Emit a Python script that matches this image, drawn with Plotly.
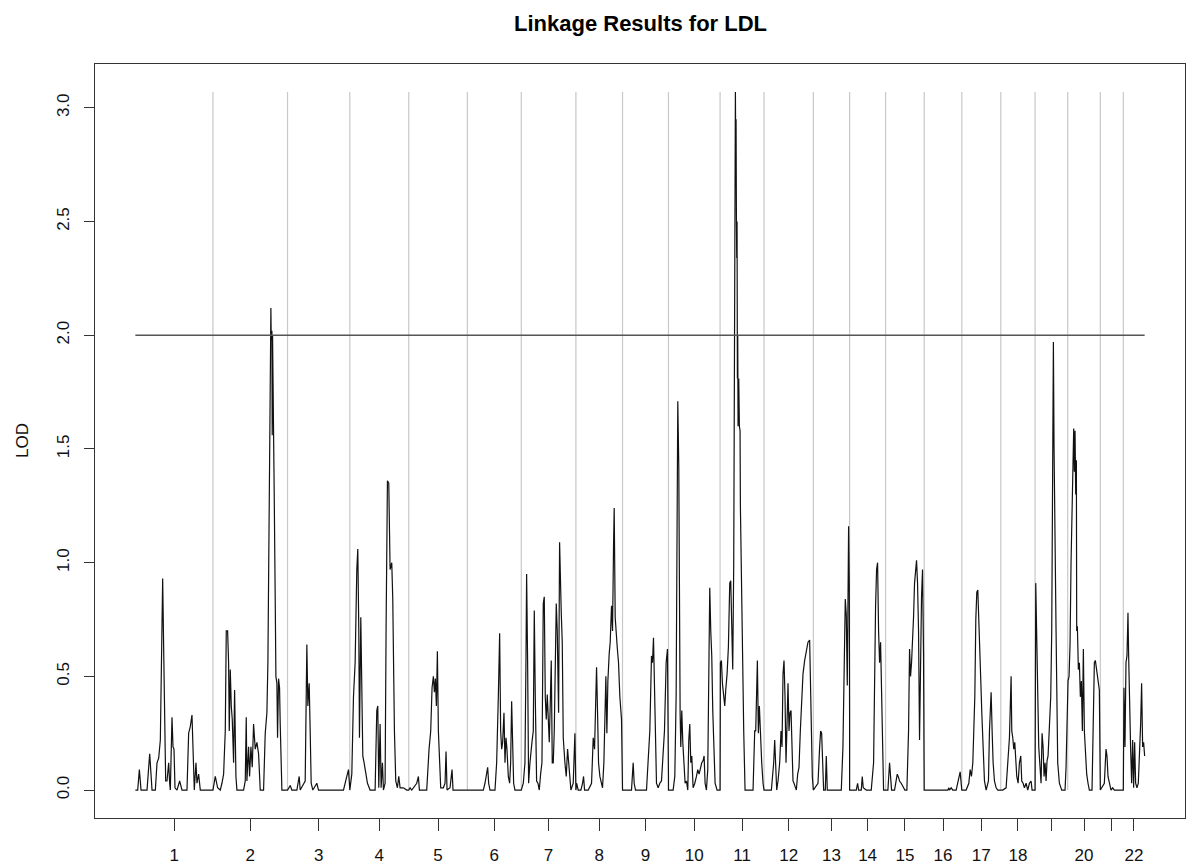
import plotly.graph_objects as go

# ---------------- data ----------------
chrom_names = [str(i) for i in range(1, 23)]
# genetic length of each chromosome (cM)
chrom_lengths = [233, 224, 187, 177, 176, 162, 164, 140, 138, 155, 132,
                 148, 109, 108, 116, 113, 117, 103, 98, 98, 69, 64]
# labels printed under the axis (R drops overlapping ones)
tick_labels = ["1", "2", "3", "4", "5", "6", "7", "8", "9", "10", "11", "12",
               "13", "14", "15", "16", "17", "18", "", "20", "", "22"]
y_ticks = [0.0, 0.5, 1.0, 1.5, 2.0, 2.5, 3.0]
threshold = 2.0

# (position within chromosome in cM, LOD)
chr01 = [(0,0),(7,0),(12,0.09),(17,0),(35,0),(43,0.16),(50,0),(60,0),(65,0.12),(70,0.14),(75,0.22),
         (80,0.63),(82,0.93),(85,0.62),(88,0.26),(91,0.04),(95,0.04),(100,0.12),(103,0.03),(105,0),
         (110,0.32),(113,0.19),(116,0.18),(119,0.01),(125,0),(133,0.04),(140,0),(155,0),(160,0.25),
         (165,0.28),(170,0.33),(173,0.18),(177,0),(182,0.12),(185,0.03),(190,0.07),(195,0),(233,0)]
chr02 = [(0,0),(2,0.02),(7,0.06),(14,0.01),(22,0),(27,0.03),(32,0.07),(37,0.26),(40,0.70),(44,0.70),
         (47,0.56),(49,0.26),(52,0.53),(55,0.37),(58,0.31),(62,0.12),(65,0.44),(69,0.06),(72,0),(92,0),
         (97,0.04),(100,0.32),(102,0.04),(107,0.19),(110,0.06),(114,0.19),(118,0.10),(122,0.29),
         (127,0.18),(132,0.21),(137,0.16),(142,0),(152,0),(157,0.25),(162,0.34),(165,0.56),(168,1.14),
         (171,1.60),(174,2.12),(175,1.98),(176,1.60),(177,2.02),(178,1.56),(179,2.00),(180,1.75),
         (181,1.90),(182,1.55),(184,1.30),(187,0.84),(189,0.50),(192,0.47),(194,0.23),(197,0.49),
         (200,0.45),(202,0.29),(207,0),(224,0)]
chr03 = [(0,0),(8,0.02),(13,0),(28,0),(35,0.06),(38,0),(53,0.04),(56,0.30),(58,0.64),(61,0.37),
         (65,0.47),(68,0.26),(71,0.03),(76,0),(88,0.03),(93,0),(168,0),(178,0.06),(183,0.09),(187,0)]
chr04 = [(0,0),(6,0.07),(11,0.41),(16,0.56),(21,0.97),(24,1.06),(27,0.70),(29,0.23),(33,0.76),
         (36,0.41),(39,0.15),(43,0.12),(47,0.09),(53,0.03),(61,0),(76,0),(81,0.35),(84,0.37),(87,0.01),
         (91,0.29),(94,0.01),(98,0.12),(101,0),(106,0.03),(109,0.72),(113,1.36),(117,1.35),(121,0.97),
         (126,1.00),(129,0.84),(134,0.26),(138,0.04),(143,0.01),(147,0.06),(151,0.01),(161,0.01),
         (171,0),(177,0)]
chr05 = [(0,0),(4,0.01),(9,0),(24,0.03),(29,0.06),(32,0),(54,0),(61,0.18),(66,0.26),(70,0.45),
         (74,0.50),(77,0.43),(80,0.49),(83,0.37),(86,0.61),(89,0.26),(92,0.12),(96,0.01),(104,0.01),
         (109,0.03),(112,0.17),(115,0),(124,0.01),(130,0.09),(133,0),(144,0),(176,0)]
chr06 = [(0,0),(48,0),(53,0.03),(58,0.07),(61,0.10),(64,0.03),(68,0),(83,0),(88,0.12),(93,0.41),
         (97,0.69),(100,0.26),(103,0.18),(106,0.21),(110,0.34),(113,0.12),(116,0.23),(119,0.18),
         (123,0.06),(127,0.03),(130,0.12),(133,0.39),(136,0.12),(139,0.03),(143,0),(162,0)]
chr07 = [(0,0),(6,0.03),(11,0.12),(14,0.56),(16,0.95),(19,0.56),(22,0.03),(26,0.12),(29,0.19),
         (32,0.21),(36,0.26),(39,0.79),(42,0.41),(46,0.04),(50,0.03),(54,0),(58,0.07),(62,0.12),
         (66,0.82),(69,0.85),(72,0.41),(75,0.31),(78,0.42),(81,0.26),(84,0.21),(87,0.38),(90,0.57),
         (93,0.12),(96,0.12),(99,0.26),(102,0.67),(105,0.82),(108,0.70),(112,0.34),(115,1.09),
         (117,0.89),(120,0.78),(123,0.65),(126,0.23),(131,0.12),(135,0.06),(139,0.18),(143,0.12),
         (146,0.06),(149,0),(156,0.03),(161,0.25),(164,0)]
chr08 = [(0,0),(2,0.03),(7,0),(15,0),(20,0.03),(23,0.06),(26,0),(37,0),(47,0.03),(52,0.23),(56,0.18),
         (59,0.34),(62,0.54),(65,0.34),(68,0.12),(72,0.06),(76,0.03),(80,0.01),(84,0.12),(87,0.41),
         (90,0.50),(93,0.25),(96,0.48),(100,0.60),(103,0.65),(107,0.81),(110,0.70),(113,1.07),
         (115,1.24),(118,0.76),(121,0.67),(124,0.63),(128,0.56),(132,0.41),(137,0.31),(140,0)]
chr09 = [(0,0),(27,0),(32,0.12),(35,0.03),(39,0),(72,0),(77,0.12),(82,0.26),(87,0.59),(90,0.56),
         (93,0.67),(96,0.41),(99,0.19),(102,0.03),(107,0.01),(112,0.03),(117,0.04),(122,0.15),
         (126,0.26),(131,0.56),(135,0.62),(138,0.05)]
chr10 = [(0,0),(14,0),(19,0.06),(23,0.41),(26,1.14),(28,1.71),(31,1.42),(33,0.56),(35,0.34),(37,0.19),
         (40,0.35),(43,0.21),(46,0.12),(50,0.03),(54,0.04),(58,0),(61,0.22),(64,0.29),(67,0.12),
         (70,0.15),(74,0.01),(79,0.03),(84,0.06),(88,0.09),(92,0.07),(96,0.10),(100,0.12),(104,0.13),
         (107,0.15),(110,0.03),(114,0),(118,0.09),(121,0.41),(124,0.89),(127,0.70),(130,0.59),
         (133,0.35),(136,0.19),(140,0.03),(146,0),(155,0)]
chr11 = [(0,0),(1,0.56),(4,0.57),(7,0.47),(11,0.41),(14,0.37),(17,0.44),(21,0.51),(25,0.63),(29,0.91),
         (32,0.92),(35,0.67),(38,0.53),(41,1.00),(42,1.50),(44,2.30),(46,3.07),(47,2.81),(48,2.95),
         (49,2.52),(50,2.34),(51,2.50),(52,1.81),(53,2.00),(54,1.60),(56,1.81),(58,1.60),(60,1.58),
         (61,1.25),(64,0.95),(67,0.53),(71,0.26),(75,0),(99,0),(104,0.26),(107,0.26),(112,0.57),
         (115,0.25),(118,0.37),(121,0.25),(125,0.12),(129,0.03),(132,0)]
chr12 = [(0,0),(22,0),(29,0.12),(32,0.22),(35,0.12),(38,0),(42,0.04),(47,0.12),(51,0.26),(54,0.19),
         (57,0.51),(60,0.57),(63,0.41),(66,0.12),(69,0.29),(72,0.47),(75,0.26),(78,0.34),(81,0.35),
         (84,0.12),(87,0.04),(90,0.03),(94,0.01),(97,0),(101,0.07),(105,0.10),(109,0.26),(113,0.41),
         (117,0.51),(122,0.57),(127,0.62),(132,0.65),(137,0.66),(140,0.44),(142,0.21),(145,0.06),(148,0)]
chr13 = [(0,0),(14,0.03),(19,0.19),(22,0.26),(25,0.25),(28,0.12),(31,0),(36,0),(39,0.15),(42,0),
         (84,0),(89,0.19),(93,0.56),(96,0.84),(99,0.77),(102,0.46),(106,1.16),(108,0.90),(109,0.30)]
chr14 = [(0,0),(20,0),(24,0.03),(27,0),(35,0),(38,0.06),(41,0.01),(50,0),(65,0),(72,0.12),(75,0.56),
         (78,0.81),(81,0.97),(84,1.00),(87,0.70),(90,0.56),(93,0.65),(96,0.37),(99,0.12),(102,0),(108,0)]
chr15 = [(0,0),(7,0),(12,0.12),(15,0.03),(18,0),(27,0),(32,0.06),(35,0.07),(38,0.06),(42,0.04),
         (47,0.03),(54,0.01),(58,0),(64,0),(69,0.26),(72,0.62),(75,0.50),(78,0.56),(81,0.65),(84,0.76),
         (87,0.91),(90,0.98),(93,1.01),(96,0.91),(99,0.70),(102,0.22),(105,0.56),(108,0.85),(111,0.97),
         (114,0.60),(116,0)]
chr16 = [(0,0),(71,0),(74,0.01),(76,0),(81,0.01),(86,0),(96,0),(103,0.04),(108,0.08),(111,0.03),(113,0)]
chr17 = [(0,0),(13,0),(21,0.03),(25,0.09),(29,0.06),(33,0.12),(36,0.26),(39,0.41),(42,0.75),(45,0.87),
         (48,0.88),(51,0.76),(54,0.67),(57,0.48),(60,0.34),(63,0.19),(68,0.04),(73,0),(80,0.04),
         (83,0.26),(86,0.41),(88,0.43),(91,0.26),(94,0.12),(98,0.04),(103,0.01),(108,0),(117,0)]
chr18 = [(0,0),(6,0),(16,0.01),(21,0.12),(26,0.23),(31,0.50),(33,0.26),(36,0.23),(39,0.18),(42,0.21),
         (45,0.12),(48,0.06),(52,0.03),(56,0.12),(60,0.15),(63,0.04),(67,0.03),(71,0.01),(76,0.03),
         (81,0),(86,0.03),(91,0.04),(94,0),(103,0)]
chr19 = [(0,0),(2,0.91),(5,0.56),(8,0.43),(11,0.19),(15,0.09),(18,0.03),(21,0.25),(24,0.19),(27,0.06),
         (30,0.12),(33,0.04),(36,0.13),(39,0.15),(43,0.26),(47,0.41),(50,0.70),(53,1.29),(55,1.97),
         (57,1.50),(59,1.14),(63,0.70),(68,0.12),(73,0.03),(80,0),(90,0),(93,0.10),(96,0.30),(98,0.41)]
chr20 = [(0,0.41),(1,0.48),(4,0.50),(7,0.64),(10,1.00),(13,1.29),(16,1.57),(18,1.59),(20,1.40),
         (22,1.58),(24,1.30),(26,1.45),(27,0.70),(29,0.72),(32,0.53),(35,0.56),(38,0.41),(41,0.48),
         (44,0.26),(47,0.62),(50,0.26),(53,0.19),(57,0.07),(61,0.03),(65,0),(73,0),(77,0.30),(80,0.56),
         (83,0.57),(86,0.54),(89,0.50),(92,0.47),(95,0.44),(98,0)]
chr21 = [(0,0),(12,0.03),(17,0.18),(20,0.15),(23,0.06),(27,0.03),(32,0),(37,0.01),(42,0),(69,0)]
chr22 = [(0,0),(2,0.45),(5,0.19),(8,0.56),(11,0.59),(14,0.78),(16,0.59),(19,0.26),(22,0.18),(25,0.03),
         (28,0.22),(31,0.01),(34,0.21),(37,0.03),(41,0.01),(45,0.03),(48,0.12),(52,0.29),(55,0.47),
         (58,0.19),(61,0.21),(64,0.15)]

scans = [chr01, chr02, chr03, chr04, chr05, chr06, chr07, chr08, chr09, chr10, chr11,
         chr12, chr13, chr14, chr15, chr16, chr17, chr18, chr19, chr20, chr21, chr22]

# ---------------- build genome-wide coordinates ----------------
offsets = []
acc = 0
for L in chrom_lengths:
    offsets.append(acc)
    acc += L

gx, gy = [], []
for off, scan in zip(offsets, scans):
    for p, lod in scan:
        gx.append(off + p)
        gy.append(lod)

mids = [off + L / 2 for off, L in zip(offsets, chrom_lengths)]
boundaries = offsets[1:]
ymax = max(gy)
xmin, xmax = min(gx), max(gx)

FONT = "Liberation Sans, Arial, Helvetica, sans-serif"
W, H = 1186, 867
ML, MR, MT, MB = 95, 1, 64, 49
PW, PH = W - ML - MR, H - MT - MB

fig = go.Figure()
fig.add_trace(go.Scatter(x=gx, y=gy, mode="lines",
                         line=dict(color="#111111", width=1.2),
                         hoverinfo="skip", showlegend=False))

shapes = []
for b in boundaries:
    shapes.append(dict(type="line", xref="x", yref="y", x0=b, x1=b, y0=0, y1=ymax,
                       line=dict(color="#c8c8c8", width=1.2), layer="below"))
shapes.append(dict(type="line", xref="x", yref="y", x0=xmin, x1=xmax, y0=threshold, y1=threshold,
                   line=dict(color="#555555", width=1.4), layer="above"))

pad_x = 0.04 * (xmax - xmin)
pad_y = 0.04 * ymax

fig.update_layout(
    width=W, height=H,
    margin=dict(l=ML, r=MR, t=MT, b=MB, autoexpand=False),
    plot_bgcolor="white", paper_bgcolor="white",
    font=dict(family=FONT, color="#111111", size=17),
    shapes=shapes,
    showlegend=False,
    xaxis=dict(range=[xmin - pad_x, xmax + pad_x], tickmode="array",
               tickvals=mids, ticktext=tick_labels, ticks="outside", ticklen=12,
               tickwidth=1.2, tickcolor="#333333", showgrid=False, zeroline=False,
               showline=True, linecolor="#333333", linewidth=1.2, mirror=True,
               tickfont=dict(size=17, family=FONT, color="#111111"),
               ticklabelstandoff=9, automargin=False),
    yaxis=dict(range=[-pad_y, ymax + pad_y], tickmode="array",
               tickvals=y_ticks, ticktext=[f"{v:.1f}" for v in y_ticks],
               tickangle=-90, ticks="outside", ticklen=10, tickwidth=1.2,
               tickcolor="#333333", showgrid=False, zeroline=False,
               showline=True, linecolor="#333333", linewidth=1.2, mirror=True,
               tickfont=dict(size=17, family=FONT, color="#111111"),
               ticklabelstandoff=8, automargin=False),
    annotations=[
        dict(text="<b>Linkage Results for LDL</b>", xref="paper", yref="paper",
             x=0.5, y=1 + (MT - 24) / PH, xanchor="center", yanchor="middle",
             showarrow=False, font=dict(size=22, family=FONT, color="#000000")),
        dict(text="LOD", xref="paper", yref="paper",
             x=(22 - ML) / PW, y=0.5, xanchor="center", yanchor="middle",
             textangle=-90, showarrow=False,
             font=dict(size=17, family=FONT, color="#111111")),
    ],
)

# remove the browser's default page margin so the figure fills the window exactly
fig.write_html(
    "out.html",
    config={"displayModeBar": False},
    post_script="document.body.style.margin='0';"
                "document.documentElement.style.overflow='hidden';"
                "document.body.style.overflow='hidden';",
)
